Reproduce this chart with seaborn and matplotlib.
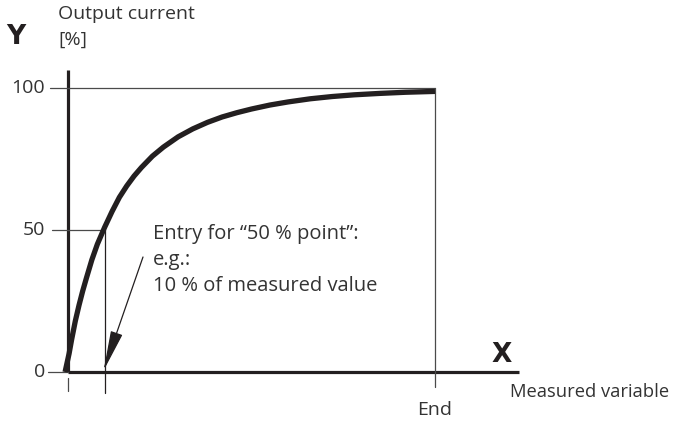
import matplotlib
matplotlib.use("Agg")
import matplotlib.pyplot as plt
import pandas as pd
import seaborn as sns

# curve (x: % of measured range, y: % output current)
curve_x = [-0.8, 0.3, 1.0, 2.0, 3.0, 4.0, 5.0, 6.5, 8.0, 10.0, 12.0, 14.0, 16.0, 18.0,
           20.0, 23.0, 26.0, 30.0, 34.0, 38.0, 42.0, 46.0, 50.0, 55.0, 60.0, 66.0,
           72.0, 78.0, 85.0, 92.0, 100.0]
curve_y = [0, 6.5, 11.5, 18.0, 23.5, 28.5, 33.0, 39.5, 45.0, 51.0, 56.5, 61.5, 65.5, 69.0,
           72.0, 76.0, 79.2, 82.8, 85.6, 87.9, 89.8, 91.3, 92.6, 94.0, 95.1, 96.2,
           97.0, 97.6, 98.1, 98.5, 98.8]
y_ticks = [0, 50, 100]
y_tick_labels = ["0", "50", "100"]
point_50_x = 10
end_x = 100

df = pd.DataFrame({"x": curve_x, "y": curve_y})

sns.set_theme(style="white")
plt.rcParams["font.family"] = ["Open Sans", "DejaVu Sans"]

W, H = 677, 421
fig = plt.figure(figsize=(W / 100, H / 100), dpi=100)
ax = fig.add_axes([0, 0, 1, 1])
ax.set_axis_off()

# pixel mapping: x=0 at px 68, x=100 at px 435; y=0 at px 372, y=100 at px 88
sx = (435 - 68) / 100
sy = (372 - 88) / 100
ax.set_xlim(-68 / sx, (W - 68) / sx)
ax.set_ylim(-(H - 372) / sy, 372 / sy)

dark = "#231f20"
thin = "#4a4a4a"
txt = "#333333"

def px_x(p):
    return (p - 68) / sx

def px_y(p):
    return (372 - p) / sy

# axes
ax.plot([0, 0], [0, px_y(70)], color=dark, lw=2.3, solid_capstyle="butt")
ax.plot([0, px_x(519)], [0, 0], color=dark, lw=2.3, solid_capstyle="butt")
ax.plot([0, 0], [px_y(378), px_y(391)], color=thin, lw=0.9)

# ticks / guide lines
ax.plot([px_x(48), 0], [0, 0], color=thin, lw=0.9)
ax.plot([px_x(52), point_50_x], [50, 50], color=thin, lw=0.9)
ax.plot([px_x(50), end_x], [100, 100], color=thin, lw=0.9)
ax.plot([point_50_x, point_50_x], [50, px_y(393)], color=dark, lw=0.9)
ax.plot([end_x, end_x], [100, px_y(387)], color=thin, lw=0.9)

for v, lab in zip(y_ticks, y_tick_labels):
    ax.text(px_x(45), v, lab, ha="right", va="center", fontsize=14, color=txt)

sns.lineplot(data=df, x="x", y="y", ax=ax, color=dark, lw=3.8, sort=False,
             solid_capstyle="butt", solid_joinstyle="round", legend=False)

# arrow to the 50 % point on x-axis
ax.annotate("", xy=(point_50_x - 0.3, 0.5), xytext=(px_x(143), px_y(257)),
            arrowprops=dict(arrowstyle="-|>,head_length=2.1,head_width=0.32",
                            color=dark, lw=0.9, shrinkA=0, shrinkB=0))

fs = 14
fig.text(6 / W, 1 - 37 / H, "Y", fontsize=19, fontweight="bold", color=dark,
         ha="left", va="center", family="DejaVu Sans")
fig.text(492 / W, 1 - 355 / H, "X", fontsize=19, fontweight="bold", color=dark,
         ha="left", va="center", family="DejaVu Sans")
fig.text(58 / W, 1 - 14 / H, "Output current", fontsize=fs, color=txt, ha="left", va="center")
fig.text(58 / W, 1 - 40 / H, "[%]", fontsize=fs, color=txt, ha="left", va="center")
fig.text(510 / W, 1 - 392 / H, "Measured variable", fontsize=13.2, color=txt, ha="left", va="center")
fig.text(435 / W, 1 - 410 / H, "End", fontsize=fs, color=txt, ha="center", va="center")
fig.text(153 / W, 1 - 234 / H, "Entry for \u201c50 % point\u201d:", fontsize=14.5, color=txt, ha="left", va="center")
fig.text(153 / W, 1 - 260 / H, "e.g.:", fontsize=14.5, color=txt, ha="left", va="center")
fig.text(153 / W, 1 - 286 / H, "10 % of measured value", fontsize=14.5, color=txt, ha="left", va="center")

fig.savefig("out.png", dpi=100)
